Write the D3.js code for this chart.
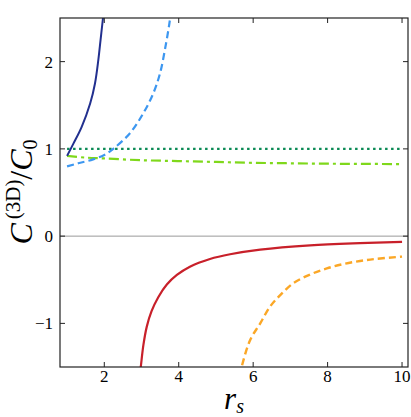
<!DOCTYPE html>
<html>
<head>
<meta charset="utf-8">
<script src="https://cdn.jsdelivr.net/npm/d3@7"></script>
<style>
body { margin: 0; background: #fff; }
</style>
</head>
<body>
<div id="chart"></div>
<script>
// ticks
var xTicks = [2, 4, 6, 8, 10];
var yTicks = [-1, 0, 1, 2];

// series
var navyX = [1.0, 1.17, 1.39, 1.62, 1.75, 1.84, 1.90, 1.96, 1.99];
var navyY = [0.92, 1.06, 1.25, 1.52, 1.75, 2.02, 2.25, 2.48, 2.62];

var blueX = [1.0, 1.3, 1.7, 2.0, 2.24, 2.69, 3.05, 3.32, 3.50, 3.63, 3.75, 3.80];
var blueY = [0.80, 0.835, 0.88, 0.93, 1.0, 1.18, 1.41, 1.64, 1.87, 2.14, 2.44, 2.6];

var dotX = [1, 10];
var dotY = [1, 1];

var limeX = [1, 1.5, 2, 3, 4, 5, 6, 7, 8, 9, 10];
var limeY = [0.92, 0.90, 0.89, 0.87, 0.86, 0.85, 0.84, 0.835, 0.83, 0.828, 0.825];

var redX = [2.95, 2.98, 3.05, 3.14, 3.27, 3.45, 3.68, 3.95, 4.30, 4.84, 5.38, 6.19, 7.53, 8.87, 10];
var redY = [-1.6, -1.5, -1.25, -1.04, -0.86, -0.70, -0.555, -0.445, -0.35, -0.262, -0.208, -0.155, -0.106, -0.08, -0.065];

var orangeX = [5.64, 5.69, 5.92, 6.19, 6.45, 6.72, 7.08, 7.53, 7.98, 8.42, 8.87, 9.32, 10];
var orangeY = [-1.6, -1.5, -1.19, -1.0, -0.81, -0.68, -0.54, -0.44, -0.37, -0.32, -0.285, -0.26, -0.235];

var svgWidth = 411;
var svgHeight = 417;
var plotLeft = 60, plotRight = 408, plotTop = 18, plotBottom = 367;
var serif = "'Liberation Serif'";

var svg = d3.select("#chart")
    .append("svg")
    .attr("width", svgWidth)
    .attr("height", svgHeight);

var x = d3.scaleLinear().domain([0.81, 10.16]).range([plotLeft, plotRight]);
var y = d3.scaleLinear().domain([-1.5, 2.5]).range([plotBottom, plotTop]);

svg.append("clipPath").attr("id", "clip")
    .append("rect")
    .attr("x", plotLeft).attr("y", plotTop)
    .attr("width", plotRight - plotLeft).attr("height", plotBottom - plotTop);

var plot = svg.append("g").attr("clip-path", "url(#clip)");

// zero line
plot.append("line")
    .attr("x1", plotLeft).attr("x2", plotRight)
    .attr("y1", y(0)).attr("y2", y(0))
    .attr("stroke", "#999")
    .attr("stroke-width", 1);

var line = d3.line()
    .x(d => x(d[0]))
    .y(d => y(d[1]))
    .curve(d3.curveCatmullRom.alpha(0.5));

function zip(xs, ys) { return xs.map((v, i) => [v, ys[i]]); }

var series = [
    {xs: dotX, ys: dotY, color: "#0b8a55", dash: "2.5,3.5", w: 2.2},
    {xs: limeX, ys: limeY, color: "#7fd81b", dash: "10,4,3,4", w: 2.2},
    {xs: blueX, ys: blueY, color: "#3d97f0", dash: "7,4", w: 2.2},
    {xs: navyX, ys: navyY, color: "#22308f", dash: null, w: 2},
    {xs: redX, ys: redY, color: "#c8202a", dash: null, w: 2.2},
    {xs: orangeX, ys: orangeY, color: "#fba726", dash: "7,4", w: 2.4}
];

series.forEach(function(s) {
    plot.append("path")
        .datum(zip(s.xs, s.ys))
        .attr("d", line)
        .attr("fill", "none")
        .attr("stroke", s.color)
        .attr("stroke-width", s.w)
        .attr("stroke-dasharray", s.dash);
});

// frame
svg.append("rect")
    .attr("x", plotLeft).attr("y", plotTop)
    .attr("width", plotRight - plotLeft).attr("height", plotBottom - plotTop)
    .attr("fill", "none")
    .attr("stroke", "#222")
    .attr("stroke-width", 1.2);

// inward ticks on all sides
var tl = 5;
xTicks.forEach(function(t) {
    svg.append("line").attr("x1", x(t)).attr("x2", x(t))
        .attr("y1", plotBottom).attr("y2", plotBottom - tl).attr("stroke", "#222");
    svg.append("line").attr("x1", x(t)).attr("x2", x(t))
        .attr("y1", plotTop).attr("y2", plotTop + tl).attr("stroke", "#222");
    svg.append("text")
        .attr("x", x(t)).attr("y", 382)
        .attr("text-anchor", "middle")
        .style("font-family", serif)
        .attr("font-size", 17)
        .text(t);
});
yTicks.forEach(function(t) {
    svg.append("line").attr("x1", plotLeft).attr("x2", plotLeft + tl)
        .attr("y1", y(t)).attr("y2", y(t)).attr("stroke", "#222");
    svg.append("line").attr("x1", plotRight).attr("x2", plotRight - tl)
        .attr("y1", y(t)).attr("y2", y(t)).attr("stroke", "#222");
    svg.append("text")
        .attr("x", 53).attr("y", y(t) + 6)
        .attr("text-anchor", "end")
        .style("font-family", serif)
        .attr("font-size", 17)
        .text(t < 0 ? "\u2212" + Math.abs(t) : t);
});

// axis labels
var xl = svg.append("text")
    .attr("x", 234).attr("y", 409)
    .attr("text-anchor", "middle")
    .style("font-family", serif)
    .attr("font-size", 31);
xl.append("tspan").attr("font-style", "italic").text("r");
xl.append("tspan").attr("font-style", "italic").attr("font-size", 20).attr("dy", 4).text("s");

var yl = svg.append("text")
    .attr("transform", "translate(32,192) rotate(-90)")
    .attr("text-anchor", "middle")
    .style("font-family", serif)
    .attr("font-size", 32);
yl.append("tspan").attr("font-style", "italic").text("C");
yl.append("tspan").attr("font-size", 21).attr("dx", 4).attr("dy", -12).text("(3D)");
yl.append("tspan").attr("dy", 12).text("/");
yl.append("tspan").attr("font-style", "italic").text("C");
yl.append("tspan").attr("font-size", 20).attr("dy", 5).text("0");
</script>
</body>
</html>
